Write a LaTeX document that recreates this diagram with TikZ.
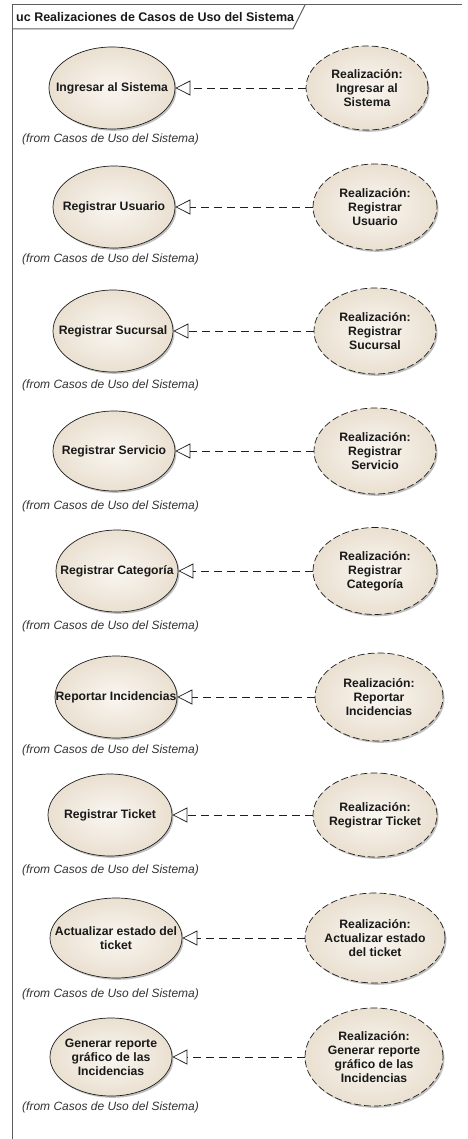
\documentclass[tikz,border=0pt]{standalone}
\usepackage{fontspec}
\setmainfont{Liberation Sans}
\usetikzlibrary{shapes.geometric,arrows.meta,shadows}
\definecolor{ucin}{RGB}{249,246,241}
\definecolor{ucout}{RGB}{234,224,209}
\definecolor{frameline}{RGB}{95,95,95}
\definecolor{inkline}{RGB}{30,30,30}

\begin{document}
\begin{tikzpicture}[x=1pt,y=-1pt,
  usecase/.style={ellipse, draw=inkline, line width=0.7pt, inner color=ucin,
    outer color=ucout, inner sep=0pt,
    drop shadow={shadow xshift=1.5pt, shadow yshift=-1.8pt, opacity=0.35, fill=black!70}},
  realiz/.style={usecase, dash pattern=on 7pt off 3pt},
  uctext/.style={font=\fontsize{12.2}{14}\selectfont\bfseries, align=center,
    inner sep=0pt, text=black!90},
  fromtxt/.style={font=\fontsize{12}{14}\selectfont\itshape, anchor=west,
    inner sep=0pt, text=black!80},
  titletxt/.style={font=\fontsize{12.5}{14}\selectfont\bfseries, anchor=west,
    inner sep=0pt, text=black!90},
  realize/.style={draw=inkline, line width=0.7pt, dash pattern=on 8pt off 5pt,
    -{Triangle[open, length=15pt, width=15pt, line width=0.7pt]}}
]
\useasboundingbox (0,0) rectangle (467,1139);
\fill[white] (0,0) rectangle (467,1139);

% diagram frame and its name tab
\draw[frameline, line width=1pt] (12,1139) -- (12,5) -- (462,5);
\draw[frameline, line width=1pt] (12,29) -- (293,29) -- (305,5);
\node[titletxt] (title) at (16,17) {uc Realizaciones de Casos de Uso del Sistema};

% row 1
\node[usecase, minimum width=126pt, minimum height=82pt] (u1) at (112,88) {};
\node[uctext] (u1t) at (u1) {Ingresar al Sistema};
\node[realiz, minimum width=122pt, minimum height=84pt] (r1) at (367,88) {};
\node[uctext] (r1t) at (r1) {Realización:\\Ingresar al\\Sistema};
\node[fromtxt] (f1) at (22,139) {(from Casos de Uso del Sistema)};

% row 2
\node[usecase, minimum width=122pt, minimum height=82pt] (u2) at (114,207) {};
\node[uctext] (u2t) at (u2) {Registrar Usuario};
\node[realiz, minimum width=124pt, minimum height=86pt] (r2) at (375,207) {};
\node[uctext] (r2t) at (r2) {Realización:\\Registrar\\Usuario};
\node[fromtxt] (f2) at (22,259) {(from Casos de Uso del Sistema)};

% row 3
\node[usecase, minimum width=120pt, minimum height=82pt] (u3) at (113,331) {};
\node[uctext] (u3t) at (u3) {Registrar Sucursal};
\node[realiz, minimum width=122pt, minimum height=86pt] (r3) at (375,331) {};
\node[uctext] (r3t) at (r3) {Realización:\\Registrar\\Sucursal};
\node[fromtxt] (f3) at (22,385) {(from Casos de Uso del Sistema)};

% row 4
\node[usecase, minimum width=122pt, minimum height=80pt] (u4) at (114,451) {};
\node[uctext] (u4t) at (u4) {Registrar Servicio};
\node[realiz, minimum width=122pt, minimum height=86pt] (r4) at (375,451) {};
\node[uctext] (r4t) at (r4) {Realización:\\Registrar\\Servicio};
\node[fromtxt] (f4) at (22,506) {(from Casos de Uso del Sistema)};

% row 5
\node[usecase, minimum width=122pt, minimum height=82pt] (u5) at (117,571) {};
\node[uctext] (u5t) at (u5) {Registrar Categoría};
\node[realiz, minimum width=124pt, minimum height=87pt] (r5) at (375,571) {};
\node[uctext] (r5t) at (r5) {Realización:\\Registrar\\Categoría};
\node[fromtxt] (f5) at (22,626) {(from Casos de Uso del Sistema)};

% row 6
\node[usecase, minimum width=122pt, minimum height=82pt] (u6) at (116,697) {};
\node[uctext] (u6t) at (u6) {Reportar Incidencias};
\node[realiz, minimum width=128pt, minimum height=88pt] (r6) at (379,697) {};
\node[uctext] (r6t) at (r6) {Realización:\\Reportar\\Incidencias};
\node[fromtxt] (f6) at (22,750) {(from Casos de Uso del Sistema)};

% row 7
\node[usecase, minimum width=124pt, minimum height=82pt] (u7) at (110,815) {};
\node[uctext] (u7t) at (u7) {Registrar Ticket};
\node[realiz, minimum width=124pt, minimum height=84pt] (r7) at (375,815) {};
\node[uctext] (r7t) at (r7) {Realización:\\Registrar Ticket};
\node[fromtxt] (f7) at (22,870) {(from Casos de Uso del Sistema)};

% row 8
\node[usecase, minimum width=132pt, minimum height=80pt] (u8) at (116,938) {};
\node[uctext] (u8t) at (u8) {Actualizar estado del\\ticket};
\node[realiz, minimum width=140pt, minimum height=90pt] (r8) at (375,938) {};
\node[uctext] (r8t) at (r8) {Realización:\\Actualizar estado\\del ticket};
\node[fromtxt] (f8) at (22,994) {(from Casos de Uso del Sistema)};

% row 9
\node[usecase, minimum width=122pt, minimum height=78pt] (u9) at (111,1057) {};
\node[uctext] (u9t) at (u9) {Generar reporte\\gráfico de las\\Incidencias};
\node[realiz, minimum width=138pt, minimum height=98pt] (r9) at (374,1057) {};
\node[uctext] (r9t) at (r9) {Realización:\\Generar reporte\\gráfico de las\\Incidencias};
\node[fromtxt] (f9) at (22,1107) {(from Casos de Uso del Sistema)};

% realization connectors
\draw[realize] (r1) -- (u1);
\draw[realize] (r2) -- (u2);
\draw[realize] (r3) -- (u3);
\draw[realize] (r4) -- (u4);
\draw[realize] (r5) -- (u5);
\draw[realize] (r6) -- (u6);
\draw[realize] (r7) -- (u7);
\draw[realize] (r8) -- (u8);
\draw[realize] (r9) -- (u9);
\end{tikzpicture}
\end{document}
